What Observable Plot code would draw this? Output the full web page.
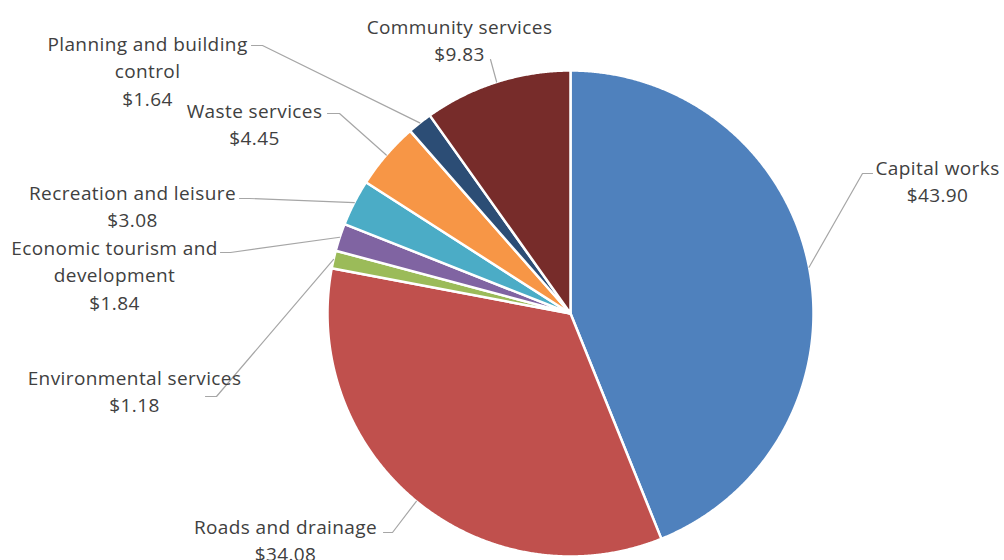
<!DOCTYPE html>
<html>
<head>
<meta charset="utf-8">
<script src="https://cdn.jsdelivr.net/npm/d3@7"></script>
<script src="https://cdn.jsdelivr.net/npm/@observablehq/plot@0.6"></script>
<style>
  html, body { margin: 0; padding: 0; background: #fff; }
  #chart { width: 1004px; height: 560px; }
</style>
</head>
<body>
<div id="chart"></div>
<script>
// ---- data ----
const categories = ["Capital works", "Roads and drainage", "Environmental services", "Economic tourism and development", "Recreation and leisure", "Waste services", "Planning and building control", "Community services"];
const values = [43.90, 34.08, 1.18, 1.84, 3.08, 4.45, 1.64, 9.83];
const labelText = ["Capital works", "Roads and drainage", "Environmental services", "Economic tourism and\ndevelopment", "Recreation and leisure", "Waste services", "Planning and building\ncontrol", "Community services"];

// ---- style / layout ----
const colors = ["#4F81BD", "#C0504D", "#9BBB59", "#8064A2", "#4BACC6", "#F79646", "#2C4D75", "#772C2A"];
const cx = 570, cy = 313, r = 243;
const labelPos = [[937, 179], [285, 538], [134, 389], [114, 273], [132, 204], [254, 122], [147, 69], [459, 38]];
const leaderStart = [[[872, 173], [862, 173]], [[383, 532], [392, 532]], [[205, 396], [216, 396]], [[220, 252], [230, 252]], [[239, 198], [249, 198]], [[327, 113], [339, 113]], [[251, 45], [262, 45]], [[490, 59]]];

const arcs = d3.pie().sort(null).value(d => d)(values);
const pt = (a, rr) => [cx + rr * Math.sin(a), cy - rr * Math.cos(a)];

const slicePts = [];
arcs.forEach((a, i) => {
  const name = categories[i];
  slicePts.push({name, x: cx, y: cy});
  const n = Math.max(4, Math.ceil((a.endAngle - a.startAngle) / 0.005));
  for (let k = 0; k <= n; k++) {
    const t = a.startAngle + (a.endAngle - a.startAngle) * k / n;
    const [x, y] = pt(t, r);
    slicePts.push({name, x, y});
  }
});

const leaderPts = [];
arcs.forEach((a, i) => {
  const name = categories[i];
  leaderStart[i].forEach(([x, y]) => leaderPts.push({name, x, y}));
  const [x, y] = pt((a.startAngle + a.endAngle) / 2, r);
  leaderPts.push({name, x, y});
});

const labels = categories.map((c, i) => ({
  name: c,
  x: labelPos[i][0],
  y: labelPos[i][1],
  text: labelText[i] + "\n$" + values[i].toFixed(2)
}));

const chart = Plot.plot({
  width: 1004,
  height: 560,
  margin: 0,
  x: {domain: [0, 1004], range: [0, 1004], axis: null},
  y: {domain: [0, 560], range: [0, 560], axis: null},
  color: {domain: categories, range: colors},
  style: {fontFamily: "'Open Sans', sans-serif", background: "#fff", letterSpacing: "0.4px"},
  marks: [
    Plot.line(slicePts, {x: "x", y: "y", z: "name", fill: "name", stroke: "white", strokeWidth: 2.5, strokeLinejoin: "round", curve: "linear-closed"}),
    Plot.line(leaderPts, {x: "x", y: "y", z: "name", stroke: "#A6A6A6", strokeWidth: 1.2}),
    Plot.text(labels, {x: "x", y: "y", text: "text", fontSize: 19, fill: "#404040", lineHeight: 1.45, lineAnchor: "middle", textAnchor: "middle"})
  ]
});
document.getElementById("chart").appendChild(chart);
</script>
</body>
</html>
